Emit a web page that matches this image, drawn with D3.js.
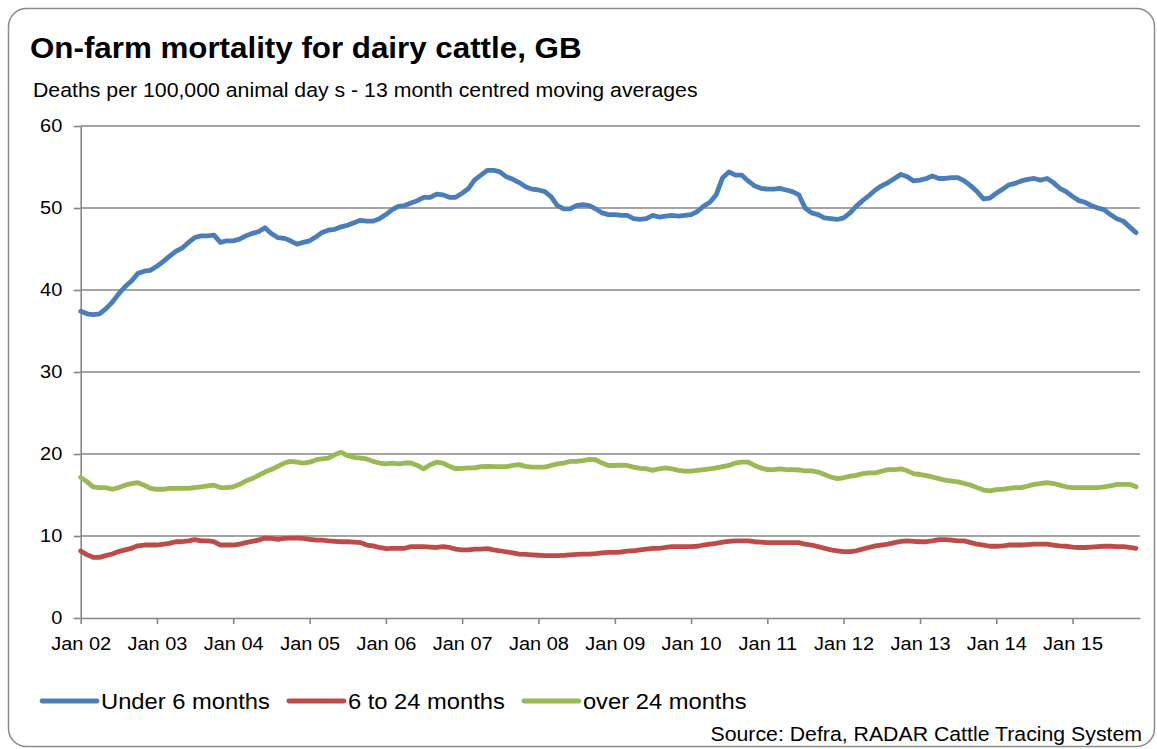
<!DOCTYPE html>
<html>
<head>
<meta charset="utf-8">
<script src="https://cdn.jsdelivr.net/npm/d3@7"></script>
<style>
  html, body { margin: 0; padding: 0; background: #fff; }
  text { font-family: "Liberation Sans", Arial, sans-serif; fill: #000; }
</style>
</head>
<body>
<div id="chart"></div>
<script>
// monthly values, Jan 02 .. Nov 15 (13 month centred moving averages)
var under6 = [
  37.4, 37.1, 37.0, 37.1, 37.7, 38.5, 39.5, 40.4, 41.1, 42.0,
  42.3, 42.4, 42.9, 43.5, 44.1, 44.7, 45.1, 45.8, 46.4, 46.6,
  46.6, 46.7, 45.8, 46.0, 46.0, 46.2, 46.6, 46.9, 47.1, 47.6,
  46.9, 46.4, 46.3, 46.0, 45.6, 45.8, 46.0, 46.5, 47.0, 47.3,
  47.4, 47.7, 47.9, 48.2, 48.5, 48.4, 48.4, 48.7, 49.2, 49.8,
  50.2, 50.3, 50.6, 50.9, 51.3, 51.3, 51.7, 51.6, 51.3, 51.3,
  51.8, 52.4, 53.4, 54.0, 54.6, 54.6, 54.4, 53.8, 53.5, 53.1,
  52.6, 52.3, 52.2, 52.0, 51.4, 50.3, 49.9, 49.9, 50.3, 50.4,
  50.3, 49.9, 49.4, 49.2, 49.2, 49.1, 49.1, 48.7, 48.6, 48.7,
  49.1, 48.9, 49.0, 49.1, 49.0, 49.1, 49.2, 49.6, 50.2, 50.7,
  51.6, 53.7, 54.4, 54.0, 54.0, 53.3, 52.7, 52.4, 52.3, 52.3,
  52.4, 52.2, 52.0, 51.6, 50.0, 49.4, 49.2, 48.8, 48.7, 48.6,
  48.8, 49.4, 50.2, 50.9, 51.5, 52.2, 52.7, 53.1, 53.6, 54.1,
  53.8, 53.3, 53.4, 53.6, 53.9, 53.6, 53.6, 53.7, 53.7, 53.3,
  52.7, 52.0, 51.1, 51.2, 51.8, 52.3, 52.8, 53.0, 53.3, 53.5,
  53.6, 53.4, 53.6, 53.1, 52.4, 52.0, 51.4, 50.9, 50.7, 50.3,
  50.0, 49.8, 49.2, 48.7, 48.4, 47.7, 47.0
];

var sixTo24 = [
  8.17, 7.7, 7.4, 7.4, 7.6, 7.8, 8.1, 8.3, 8.5, 8.8,
  8.9, 8.9, 8.9, 9.0, 9.1, 9.3, 9.3, 9.4, 9.55, 9.4,
  9.4, 9.3, 8.9, 8.9, 8.9, 9.0, 9.2, 9.35, 9.5, 9.75,
  9.7, 9.6, 9.7, 9.75, 9.75, 9.7, 9.6, 9.5, 9.5, 9.4,
  9.35, 9.3, 9.3, 9.25, 9.2, 8.9, 8.8, 8.6, 8.45, 8.5,
  8.5, 8.5, 8.7, 8.7, 8.7, 8.65, 8.6, 8.7, 8.6, 8.4,
  8.3, 8.3, 8.4, 8.4, 8.45, 8.3, 8.2, 8.05, 7.95, 7.8,
  7.75, 7.7, 7.65, 7.6, 7.6, 7.6, 7.65, 7.7, 7.75, 7.8,
  7.8, 7.85, 7.95, 8.0, 8.0, 8.05, 8.15, 8.2, 8.3, 8.4,
  8.5, 8.5, 8.6, 8.7, 8.7, 8.7, 8.7, 8.75, 8.9, 9.0,
  9.1, 9.25, 9.35, 9.4, 9.4, 9.4, 9.3, 9.25, 9.2, 9.2,
  9.2, 9.2, 9.2, 9.2, 9.0, 8.9, 8.7, 8.5, 8.3, 8.2,
  8.1, 8.1, 8.2, 8.4, 8.6, 8.8, 8.9, 9.0, 9.2, 9.35,
  9.4, 9.35, 9.3, 9.3, 9.4, 9.55, 9.55, 9.5, 9.4, 9.4,
  9.2, 9.0, 8.9, 8.75, 8.75, 8.8, 8.9, 8.9, 8.9, 8.95,
  9.0, 9.0, 9.0, 8.9, 8.8, 8.75, 8.65, 8.6, 8.6, 8.65,
  8.7, 8.75, 8.75, 8.7, 8.7, 8.6, 8.5
];

var over24 = [
  17.15, 16.6, 16.0, 15.9, 15.9, 15.7, 15.9, 16.2, 16.4, 16.5,
  16.2, 15.8, 15.7, 15.7, 15.8, 15.8, 15.8, 15.8, 15.9, 16.0,
  16.1, 16.2, 15.9, 15.9, 16.0, 16.3, 16.7, 17.0, 17.4, 17.8,
  18.1, 18.5, 18.9, 19.1, 19.0, 18.9, 19.0, 19.3, 19.4, 19.5,
  19.9, 20.2, 19.8, 19.6, 19.5, 19.4, 19.1, 18.9, 18.8, 18.9,
  18.8, 18.9, 18.9, 18.6, 18.2, 18.7, 19.0, 18.9, 18.5, 18.2,
  18.25, 18.3, 18.3, 18.45, 18.5, 18.45, 18.45, 18.45, 18.6, 18.7,
  18.5, 18.4, 18.4, 18.4, 18.6, 18.8, 18.9, 19.1, 19.1, 19.2,
  19.35, 19.3, 18.9, 18.6, 18.6, 18.65, 18.6, 18.4, 18.25, 18.2,
  18.0, 18.2, 18.3, 18.2, 18.0, 17.9, 17.9, 18.0, 18.1, 18.2,
  18.3, 18.45, 18.6, 18.9, 19.0, 19.0, 18.6, 18.3, 18.1, 18.1,
  18.2, 18.1, 18.1, 18.05, 17.95, 17.95, 17.8, 17.5, 17.2, 17.0,
  17.1, 17.3, 17.4, 17.6, 17.7, 17.7, 17.9, 18.1, 18.1, 18.2,
  17.95, 17.6, 17.5, 17.35, 17.2, 17.0, 16.8, 16.7, 16.6, 16.4,
  16.2, 15.9, 15.6, 15.5, 15.65, 15.7, 15.8, 15.9, 15.9, 16.1,
  16.3, 16.4, 16.5, 16.4, 16.2, 16.0, 15.9, 15.9, 15.9, 15.9,
  15.9, 16.0, 16.1, 16.3, 16.3, 16.3, 16.0
];

var seriesNames = ['Under 6 months', '6 to 24 months', 'over 24 months'];
var seriesColors = ['#4a7ebb', '#be4b48', '#98b954'];
var firstMonth = 'Jan 02';
var xTickLabels = ['Jan 02', 'Jan 03', 'Jan 04', 'Jan 05', 'Jan 06', 'Jan 07', 'Jan 08',
                   'Jan 09', 'Jan 10', 'Jan 11', 'Jan 12', 'Jan 13', 'Jan 14', 'Jan 15'];
var yTicks = [0, 10, 20, 30, 40, 50, 60];

(function(d3) {

  'use strict';

  var parseMonth = d3.timeParse('%b %y');
  var SX = 1.08; // text in the original is slightly wide

  var Chart = function(element, series) {
    this.element = element;
    this.series = series;
    this.svg = null;
    this.width = 1157;
    this.height = 749;
    this.plot = { left: 80.7, right: 1140, top: 126, bottom: 618 };
  };

  Chart.prototype = {

    init: function() {
      this.setSvg();
      this.setScales();
      this.drawFrame();
      this.drawGrid();
      this.drawAxes();
      this.drawLines();
      this.drawTitles();
      this.drawLegend();
    },

    setSvg: function() {
      this.svg = d3.select(this.element)
        .append('svg')
        .attr('width', this.width)
        .attr('height', this.height);
    },

    setScales: function() {
      var start = parseMonth(firstMonth);
      this.months = this.series[0].values.map(function(v, i) {
        return d3.timeMonth.offset(start, i);
      });
      var last = this.months[this.months.length - 1];
      this.x = d3.scaleTime()
        .domain([start, d3.timeDay.offset(last, 19)])
        .range([this.plot.left, this.plot.right]);
      this.y = d3.scaleLinear()
        .domain([0, 60])
        .range([this.plot.bottom, this.plot.top]);
    },

    addText: function(parent, x, y, str, size, anchor, weight) {
      var g = parent.append('g')
        .attr('transform', 'translate(' + x + ',' + y + ') scale(' + SX + ',1)');
      return g.append('text')
        .attr('text-anchor', anchor || 'start')
        .style('font-size', size + 'px')
        .style('font-weight', weight || 'normal')
        .text(str);
    },

    drawFrame: function() {
      this.svg.append('rect')
        .attr('x', 8.5)
        .attr('y', 8.5)
        .attr('width', 1146)
        .attr('height', 738)
        .attr('rx', 18)
        .style('fill', 'none')
        .style('stroke', '#8a8a8a')
        .style('stroke-width', 1.5);
    },

    drawGrid: function() {
      var y = this.y, p = this.plot;
      this.svg.append('g')
        .selectAll('line')
        .data(yTicks.slice(1))
        .enter()
        .append('line')
        .attr('x1', p.left)
        .attr('x2', p.right)
        .attr('y1', function(d) { return y(d); })
        .attr('y2', function(d) { return y(d); })
        .style('stroke', '#868686')
        .style('stroke-width', 1.6);
    },

    drawAxes: function() {
      var p = this.plot;

      var yAxis = d3.axisLeft(this.y)
        .tickValues(yTicks)
        .tickSizeInner(7)
        .tickSizeOuter(0)
        .tickPadding(10);

      var gy = this.svg.append('g')
        .attr('transform', 'translate(' + p.left + ',0)')
        .call(yAxis);
      gy.selectAll('text')
        .attr('transform', 'scale(' + SX + ',1)')
        .style('font-size', '18.5px')
        .style('font-family', '"Liberation Sans", Arial, sans-serif');

      var xAxis = d3.axisBottom(this.x)
        .tickValues(xTickLabels.map(parseMonth))
        .tickFormat(d3.timeFormat('%b %y'))
        .tickSizeInner(6)
        .tickSizeOuter(0)
        .tickPadding(13);

      var gx = this.svg.append('g')
        .attr('transform', 'translate(0,' + p.bottom + ')')
        .call(xAxis);
      gx.selectAll('text')
        .attr('transform', 'scale(' + SX + ',1)')
        .style('font-size', '18.5px')
        .style('font-family', '"Liberation Sans", Arial, sans-serif');

      [gx, gy].forEach(function(g) {
        g.selectAll('path, line')
          .style('stroke', '#868686')
          .style('stroke-width', 1.6);
      });
    },

    drawLines: function() {
      var x = this.x, y = this.y, months = this.months;
      var line = d3.line()
        .x(function(d, i) { return x(months[i]); })
        .y(function(d) { return y(d); });

      this.svg.append('g')
        .selectAll('path')
        .data(this.series)
        .enter()
        .append('path')
        .attr('d', function(s) { return line(s.values); })
        .style('fill', 'none')
        .style('stroke', function(s) { return s.color; })
        .style('stroke-width', 4.8)
        .style('stroke-linejoin', 'round')
        .style('stroke-linecap', 'round');
    },

    drawTitles: function() {
      this.addText(this.svg, 30, 58, 'On-farm mortality for dairy cattle, GB', 29, 'start', 'bold');
      this.addText(this.svg, 33, 97, 'Deaths per 100,000 animal day s - 13 month centred moving averages', 19.7);
      this.addText(this.svg, 1142, 741, 'Source: Defra, RADAR Cattle Tracing System', 19.7, 'end');
    },

    drawLegend: function() {
      var self = this;
      var cx = 42, cy = 701;
      var g = this.svg.append('g');
      this.series.forEach(function(s) {
        g.append('line')
          .attr('x1', cx)
          .attr('x2', cx + 55)
          .attr('y1', cy)
          .attr('y2', cy)
          .style('stroke', s.color)
          .style('stroke-width', 4.8)
          .style('stroke-linecap', 'round');
        var t = self.addText(g, cx + 59, cy + 8, s.name, 22);
        cx += 59 + t.node().getComputedTextLength() * SX + 19;
      });
    }

  };

  var series = [under6, sixTo24, over24].map(function(values, i) {
    return { name: seriesNames[i], color: seriesColors[i], values: values };
  });

  var app = new Chart('#chart', series);
  app.init();

})(d3);
</script>
</body>
</html>
